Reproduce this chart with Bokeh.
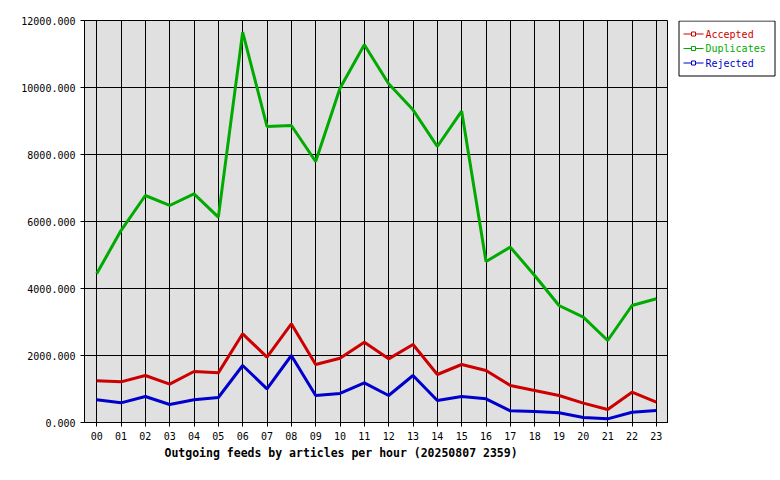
from bokeh.plotting import figure
from bokeh.models import (FixedTicker, PrintfTickFormatter, Title, Range1d)
from bokeh.layouts import row
from bokeh.core.properties import value
from bokeh.embed import file_html
from bokeh.resources import INLINE

hours = list(range(24))
hour_labels = ["%02d" % h for h in hours]
accepted = [1244, 1214, 1403, 1144, 1522, 1482, 2647, 1950, 2945, 1731, 1920, 2398,
            1900, 2328, 1433, 1731, 1552, 1104, 955, 806, 577, 388, 905, 607]
duplicates = [4440, 5730, 6776, 6478, 6826, 6129, 11652, 8836, 8866, 7791, 9980, 11274,
              10110, 9333, 8239, 9294, 4806, 5234, 4388, 3493, 3144, 2448, 3493, 3692]
rejected = [677, 587, 776, 537, 677, 746, 1701, 1005, 2000, 806, 866, 1184,
            806, 1403, 657, 776, 706, 348, 328, 289, 149, 109, 308, 358]
y_ticks = [0, 2000, 4000, 6000, 8000, 10000, 12000]
title_text = "Outgoing feeds by articles per hour (20250807 2359)"
series_names = ["Accepted", "Duplicates", "Rejected"]
series_colors = ["#cc0000", "#00aa00", "#0000cc"]
series_values = [accepted, duplicates, rejected]

MONO = "DejaVu Sans Mono"

p = figure(width=668, height=480, output_backend="svg", toolbar_location=None,
           x_range=Range1d(-0.5, 23.5), y_range=Range1d(0, 12000),
           min_border_left=84, min_border_right=0, min_border_top=20,
           min_border_bottom=58)
p.border_fill_color = "white"
p.background_fill_color = "#e0e0e0"
p.outline_line_color = "black"
p.outline_line_width = 1

p.xaxis.ticker = FixedTicker(ticks=hours)
p.xaxis.major_label_overrides = {h: lbl for h, lbl in zip(hours, hour_labels)}
p.yaxis.ticker = FixedTicker(ticks=y_ticks)
p.yaxis.formatter = PrintfTickFormatter(format="%.3f")
for ax in (p.xaxis, p.yaxis):
    ax.axis_line_color = "black"
    ax.major_tick_line_color = "black"
    ax.minor_tick_line_color = None
    ax.major_tick_in = 0
    ax.major_tick_out = 4
    ax.major_label_text_font = MONO
    ax.major_label_text_font_size = "10px"
    ax.major_label_text_color = "black"
    ax.major_label_standoff = 5

p.xgrid.ticker = FixedTicker(ticks=hours)
p.ygrid.ticker = FixedTicker(ticks=y_ticks)
for g in (p.xgrid, p.ygrid):
    g.grid_line_color = "black"
    g.grid_line_width = 1
    g.grid_line_alpha = 1

for name, vals, color in zip(series_names, series_values, series_colors):
    p.line(hours, vals, line_color=color, line_width=3)

t = Title(text=title_text, align="left", offset=80, text_font=MONO,
          text_font_size="11.5px", text_font_style="bold", text_color="black",
          standoff=2)
p.add_layout(t, "below")

# legend panel drawn in pixel coordinates (frame aligned with main plot frame: y 20..422)
lg = figure(width=112, height=480, output_backend="svg", toolbar_location=None,
            x_range=Range1d(0, 112), y_range=Range1d(422, 20),
            min_border_left=0, min_border_right=0, min_border_top=20,
            min_border_bottom=58, outline_line_color=None)
lg.axis.visible = False
lg.grid.visible = False
lg.border_fill_color = "white"
lg.background_fill_color = "white"
lg.quad(left=[10.5], right=[106.5], top=[20.5], bottom=[75.5], fill_color="white",
        line_color="black", line_width=1)
ys = [33.5, 48, 62.5]
for name, color, yy in zip(series_names, series_colors, ys):
    lg.line([15, 35], [yy, yy], line_color=color, line_width=1)
    lg.scatter([25], [yy], marker="square", size=4, line_color=color,
               fill_color="white", line_width=1)
    lg.text([37], [yy], text=[name], text_color=color, text_font=value(MONO),
            text_font_size="10px", text_baseline="middle", text_align="left")

layout = row(p, lg, spacing=0)
open("out.html", "w").write(file_html(layout, INLINE))
